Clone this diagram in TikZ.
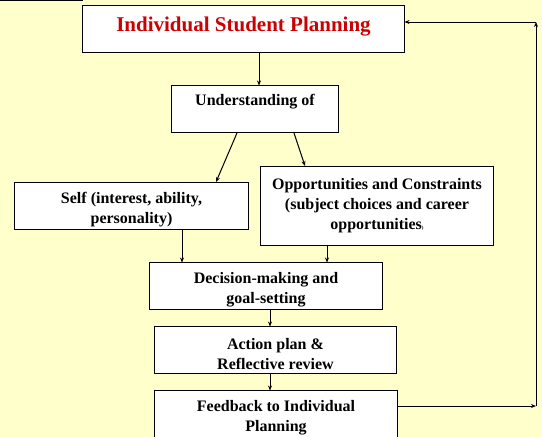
\documentclass[tikz,border=0pt]{standalone}
\usepackage{fontspec}
\setmainfont{Liberation Serif}
\usetikzlibrary{arrows.meta}
\definecolor{paper}{HTML}{FFFFCC}
\definecolor{titlered}{HTML}{CC0000}
\newcommand{\toplift}{\rule{0pt}{19pt}}
\tikzset{
  box/.style={draw, fill=white, line width=1.5pt, inner sep=0pt, outer sep=0pt,
    align=center, font=\bfseries\fontsize{16}{20}\selectfont},
  flow/.style={-{Stealth[length=5pt,width=4pt]}, line width=1pt}
}
\begin{document}
\begin{tikzpicture}[x=1pt,y=-1pt]
  \useasboundingbox[fill=paper] (0,0) rectangle (542,437);
  \draw[line width=1.5pt] (0,0.5) -- (83,0.5);
  \draw
    (243.5,29) node[box, minimum width=322pt, minimum height=47pt, text depth=10pt,
      text=titlered, font=\bfseries\fontsize{21}{24}\selectfont] (plan)
      {Individual Student Planning}
    (255,109) node[box, minimum width=167pt, minimum height=47pt] (under)
      {\toplift Understanding of\\ \strut}
    (131.5,206) node[box, minimum width=234pt, minimum height=47pt] (self)
      {\toplift Self (interest, ability,\\ personality)}
    (377,206) node[box, minimum width=233pt, minimum height=79pt] (opp)
      {Opportunities and Constraints\\ (subject choices and career\\ opportunities{\tiny)}}
    (266,286) node[box, minimum width=233pt, minimum height=47pt] (decide)
      {\toplift Decision-making and\\ goal-setting}
    (275.5,350) node[box, minimum width=242pt, minimum height=47pt] (action)
      {\toplift Action plan \&\\ Reflective review}
    (276,414) node[box, minimum width=243pt, minimum height=47pt] (feedback)
      {\toplift Feedback to Individual\\ Planning};
  \coordinate (turn) at (536,406);
  \coordinate (corner) at (536,22);
  \begin{scope}[flow]
    \draw (plan.south -| 259,0) to (under.north -| 259,0);
    \draw (237,133) to (216,182);
    \draw (294,133) to (305,166);
    \draw (self.south -| 182,0) to (decide.north -| 182,0);
    \draw (opp.south -| 327,0) to (decide.north -| 327,0);
    \draw (decide.south -| 270,0) to (action.north -| 270,0);
    \draw (action.south -| 270,0) to (feedback.north -| 270,0);
    \draw (feedback.east |- turn) to (turn);
    \draw (turn) to (corner);
    \draw (corner) to (plan.east |- corner);
  \end{scope}
\end{tikzpicture}
\end{document}
